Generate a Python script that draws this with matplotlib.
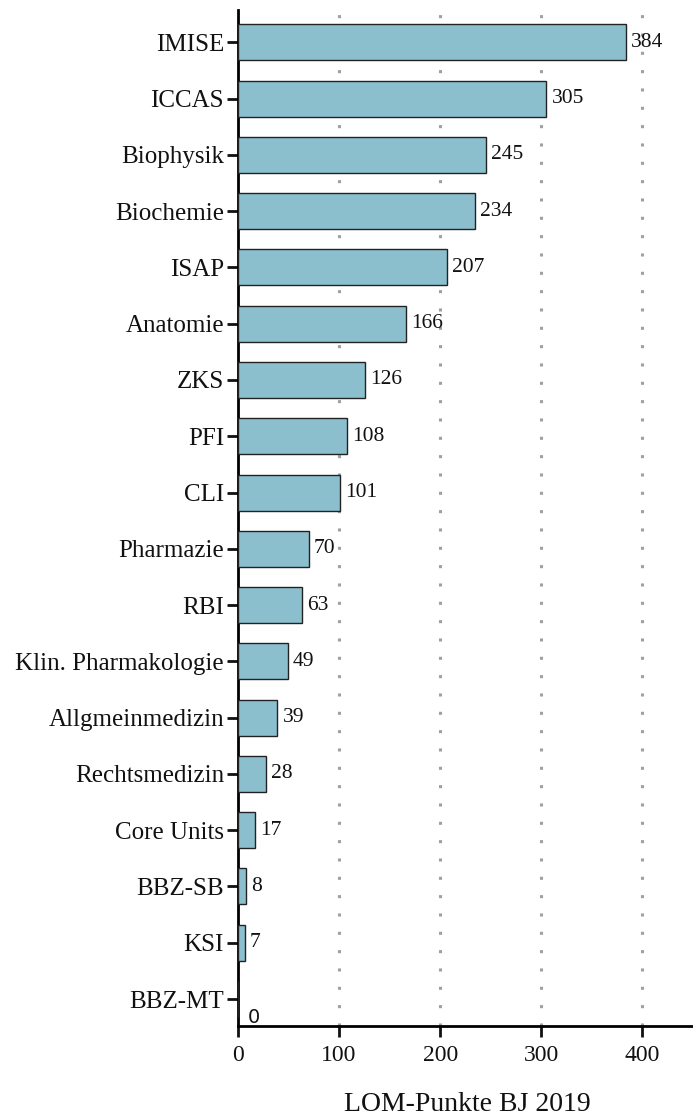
import matplotlib
matplotlib.use("Agg")
import matplotlib.pyplot as plt

categories = ["IMISE", "ICCAS", "Biophysik", "Biochemie", "ISAP", "Anatomie", "ZKS",
              "PFI", "CLI", "Pharmazie", "RBI", "Klin. Pharmakologie", "Allgmeinmedizin",
              "Rechtsmedizin", "Core Units", "BBZ-SB", "KSI", "BBZ-MT"]
values = [384, 305, 245, 234, 207, 166, 126, 108, 101, 70, 63, 49, 39, 28, 17, 8, 7, 0]
xticks = [0, 100, 200, 300, 400]
xlabel = "LOM-Punkte BJ 2019"

plt.rcParams['font.family'] = ['Liberation Serif', 'DejaVu Serif']

fig = plt.figure(figsize=(6.93, 11.15), dpi=100)
ax = fig.add_axes([0.3434, 0.0798, 0.6566, 0.911])

ypos = list(range(len(categories)))
ax.barh(ypos, values, height=0.64, color="#8bbfcd", edgecolor="#222222", linewidth=1.0, zorder=3)

for y, v in zip(ypos, values):
    if v == 0:
        ax.text(v + 10, y + 0.32, str(v), va="center", ha="left", fontsize=14,
                family="DejaVu Sans", color="#111111", zorder=4)
    else:
        ax.text(v + 5, y, str(v), va="center", ha="left", fontsize=15.5, color="#111111", zorder=4)

ax.set_ylim(len(categories) - 0.52, -0.57)
ax.set_xlim(0, 450)
ax.set_yticks(ypos)
ax.set_yticklabels(categories, fontsize=18)
ax.set_xticks(xticks)
ax.set_xticklabels([str(t) for t in xticks], fontsize=17)

for t in xticks[1:]:
    ax.axvline(t, color="#a0a0a0", linestyle=(0, (1, 5)), linewidth=2.2, zorder=1)

ax.spines["top"].set_visible(False)
ax.spines["right"].set_visible(False)
ax.spines["left"].set_linewidth(2)
ax.spines["bottom"].set_linewidth(2)
ax.tick_params(axis="both", width=2, length=8, color="#111111", labelcolor="#111111")
ax.tick_params(axis="y", pad=2)
ax.tick_params(axis="x", pad=6)

ax_center = 0.3434 + 0.6566 * (227.0 / 450.0)
fig.text(ax_center, 0.004, xlabel, ha="center", va="baseline", fontsize=20, color="#111111")

fig.savefig("out.png", dpi=100)
